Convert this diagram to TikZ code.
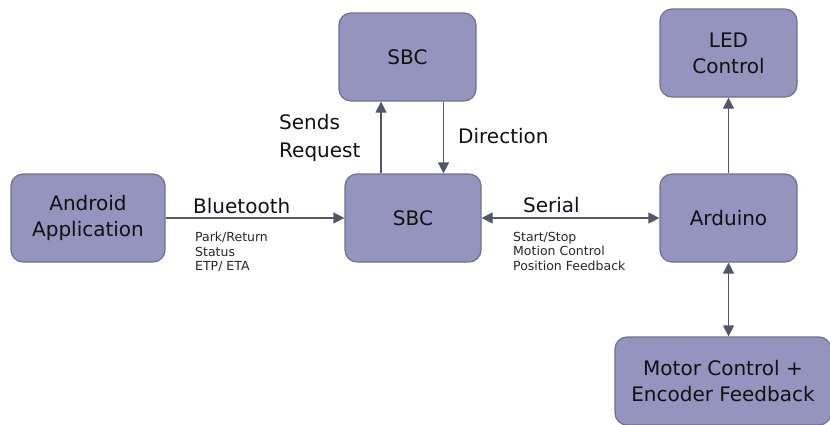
\documentclass[tikz,border=0pt]{standalone}
\usepackage{fontspec}
\setmainfont{DejaVu Sans}
\usetikzlibrary{arrows.meta}
\definecolor{boxfill}{HTML}{9494BE}
\definecolor{boxdraw}{HTML}{707092}
\definecolor{linecol}{HTML}{55556A}
\definecolor{txt}{HTML}{111111}
\definecolor{smalltxt}{HTML}{262626}
\tikzset{
  blk/.style={rectangle, rounded corners=12pt, fill=boxfill, draw=boxdraw, line width=1.2pt,
    minimum height=88pt, text=txt, align=center,
    font=\fontsize{20}{26}\selectfont, inner sep=0pt},
  arr/.style={draw=linecol, line width=1.2pt, -{Triangle[length=11pt,width=11pt]}, color=linecol},
  darr/.style={draw=linecol, line width=1.2pt, {Triangle[length=11pt,width=11pt]}-{Triangle[length=11pt,width=11pt]}, color=linecol},
  lbl/.style={font=\fontsize{20}{26}\selectfont, text=txt, inner sep=0pt, anchor=base west},
  small/.style={font=\fontsize{12.5}{14.5}\selectfont, text=smalltxt, inner sep=0pt, anchor=north west, align=left},
}
\begin{document}
\begin{tikzpicture}[x=1pt,y=-1pt]
\useasboundingbox (0,0) rectangle (830,424);
\node[blk, minimum width=154pt] (android) at (88,218) {Android\\Application};
\node[blk, minimum width=136pt] (sbc) at (413,218) {SBC};
\node[blk, minimum width=137pt] (sbctop) at (407.5,57) {SBC};
\node[blk, minimum width=137pt] (led) at (728.5,53) {LED\\Control};
\node[blk, minimum width=137pt] (ard) at (728.5,218) {Arduino};
\node[blk, minimum width=216pt] (motor) at (723,381) {Motor Control +\\Encoder Feedback};

\coordinate (xreq) at (381,0);
\coordinate (xdir) at (443.5,0);

\draw[arr] (android.east) -- (sbc.west);
\draw[arr] (sbc.north -| xreq) -- (sbctop.south -| xreq);
\draw[arr] (sbctop.south -| xdir) -- (sbc.north -| xdir);
\draw[darr] (sbc.east) -- (ard.west);
\draw[arr] (ard.north) -- (led.south);
\draw[darr] (ard.south) -- (motor.north -| ard.south);

\node[lbl] (lbt) at (193,213) {Bluetooth};
\node[lbl] (lsends) at (279,129) {Sends};
\node[lbl] (lreq) at (279,157) {Request};
\node[lbl] (ldir) at (458,143) {Direction};
\node[lbl] (lser) at (523,212) {Serial};
\node[small] (lpark) at (195,232) {Park/Return\\Status\\ETP/ ETA};
\node[small] (lstart) at (513,232) {Start/Stop\\Motion Control\\Position Feedback};
\end{tikzpicture}
\end{document}
